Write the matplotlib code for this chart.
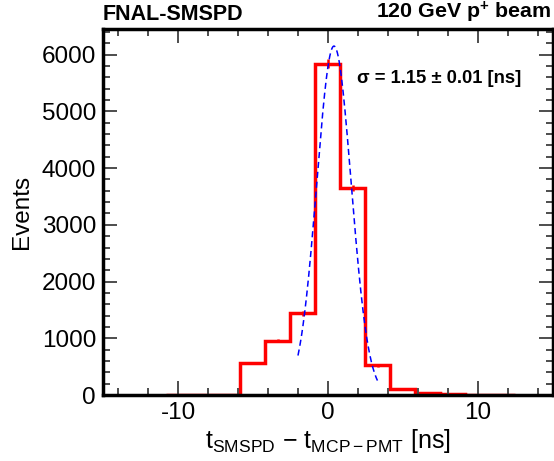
"""Timing resolution histogram of the SMSPD against the MCP-PMT reference."""

import numpy as np
import matplotlib.pyplot as plt


BIN_WIDTH = 5.0 / 3.0
BIN_EDGES = -10.8333 + BIN_WIDTH * np.arange(15)
BIN_COUNTS = [2, 4, 9, 565, 960, 1440, 5840, 3650, 525, 100, 35, 14, 6, 3]

FIT_AMPLITUDE = 6150.0
FIT_MEAN = 0.4
FIT_SIGMA = 1.15
FIT_RANGE = (-2.0, 3.3)

plt.rcParams["font.family"] = ["Liberation Sans", "DejaVu Sans"]
plt.rcParams["mathtext.fontset"] = "custom"
plt.rcParams["mathtext.rm"] = "Liberation Sans"
plt.rcParams["mathtext.it"] = "Liberation Sans:italic"
plt.rcParams["mathtext.bf"] = "Liberation Sans:bold"


def main() -> None:
    fig = plt.figure(figsize=(5.54, 4.61), dpi=100)
    ax = fig.add_axes([0.186, 0.143, 0.812, 0.794])

    counts = np.array(BIN_COUNTS, dtype=float)
    centers = 0.5 * (BIN_EDGES[:-1] + BIN_EDGES[1:])

    ax.stairs(counts, BIN_EDGES, color="red", linewidth=2.5)
    ax.errorbar(centers, counts, yerr=np.sqrt(counts), fmt="none",
                ecolor="red", elinewidth=1.8, capsize=0)

    fit_x = np.linspace(FIT_RANGE[0], FIT_RANGE[1], 300)
    fit_y = FIT_AMPLITUDE * np.exp(-0.5 * ((fit_x - FIT_MEAN) / FIT_SIGMA) ** 2)
    ax.plot(fit_x, fit_y, color="blue", linestyle=(0, (4, 2.5)), linewidth=1.1)

    ax.set_xlim(-15, 15)
    ax.set_ylim(0, 6450)
    ax.set_xticks([-10, 0, 10])
    ax.set_xticklabels(["-10", "0", "10"])
    ax.set_xticks(np.arange(-14, 15, 2), minor=True)
    ax.set_yticks(np.arange(0, 6001, 1000))
    ax.set_yticks(np.arange(0, 6401, 200), minor=True)

    ax.tick_params(which="both", direction="in", top=True, right=True,
                   color="0.3", labelsize=17.5, pad=5)
    ax.tick_params(which="major", length=10, width=1.4)
    ax.tick_params(which="minor", length=5, width=1.4)
    for spine in ax.spines.values():
        spine.set_linewidth(2.5)

    ax.set_ylabel("Events", fontsize=17.5, labelpad=6)
    ax.set_xlabel(r"t$_{\mathrm{SMSPD}}$ $-$ t$_{\mathrm{MCP-PMT}}$ [ns]",
                  fontsize=18, labelpad=2)

    ax.text(0.0, 1.012, "FNAL-SMSPD", transform=ax.transAxes,
            fontsize=15.5, fontweight="bold", ha="left", va="bottom")
    ax.text(0.996, 1.012, r"120 GeV p$^{\mathbf{+}}$ beam", transform=ax.transAxes,
            fontsize=15.4, fontweight="bold", ha="right", va="bottom")
    ax.text(0.565, 0.865, "σ = 1.15 ± 0.01 [ns]", transform=ax.transAxes,
            fontsize=13.2, fontweight="bold", ha="left", va="center")

    fig.savefig("out.png", dpi=100)


if __name__ == "__main__":
    main()
